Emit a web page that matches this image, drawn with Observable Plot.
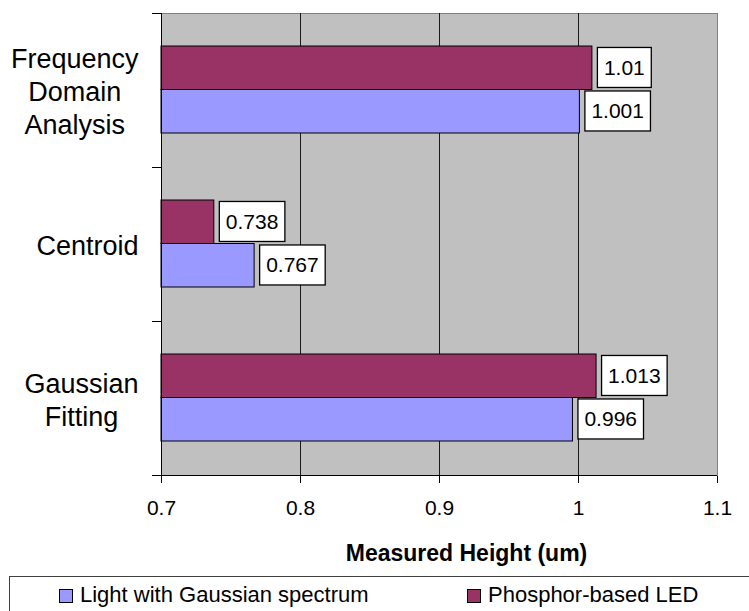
<!DOCTYPE html>
<html><head><meta charset="utf-8">
<script src="https://cdn.jsdelivr.net/npm/d3@7"></script>
<script src="https://cdn.jsdelivr.net/npm/@observablehq/plot@0.6"></script>
<style>
body{margin:0;background:#fff;font-family:"Liberation Sans",Arial,sans-serif;}
#chart{position:absolute;left:0;top:0;}
#legend{position:absolute;left:9px;top:576px;width:780px;height:60px;border:1px solid #404040;box-sizing:border-box;background:#fff;}
#legend .sw{position:absolute;top:12px;width:14px;height:14px;border:1px solid #000;box-sizing:border-box;}
#legend .lt{position:absolute;top:5px;font-size:22px;line-height:26px;color:#000;white-space:nowrap;}
</style></head><body>
<div id="chart"></div>
<div id="legend"></div>
<script>
const categories = ["Frequency Domain Analysis", "Centroid", "Gaussian Fitting"];
const categoryLabels = ["Frequency\nDomain\nAnalysis", "Centroid", "Gaussian\nFitting"];
const seriesNames = ["Light with Gaussian spectrum", "Phosphor-based LED"];
const seriesColors = ["#9999FF", "#993366"];
const lightValues = [1.001, 0.767, 0.996];
const phosphorValues = [1.01, 0.738, 1.013];
const xTicks = [0.7, 0.8, 0.9, 1.0, 1.1];
const xGrid = [0.8, 0.9, 1.0];
const xTitle = "Measured Height (um)";

const FONT = "'Liberation Sans', Arial, sans-serif";
const W = 749, H = 576, mt = 13, mb = 101, ml = 161, mr = 32;
const plotW = W - ml - mr;
const step = (H - mt - mb) / categories.length;
const barH = 43.5, topPad = 33;
const xMin = xTicks[0];
const CAT_FS = 27;

const lightRows = categories.map((c, i) => ({cat: c, value: lightValues[i]}));
const phRows = categories.map((c, i) => ({cat: c, value: phosphorValues[i]}));

// measure label blocks to center each multi-line label, right-aligned as a block
const ctx = document.createElement("canvas").getContext("2d");
ctx.font = CAT_FS + "px " + FONT;
const catMarks = categories.map((c, i) => {
  const lines = categoryLabels[i].split("\n");
  const w = Math.max(...lines.map(l => ctx.measureText(l).width));
  return Plot.text([c], {
    y: d => d, text: () => categoryLabels[i], frameAnchor: "left",
    textAnchor: "middle", lineAnchor: "middle", lineHeight: 1.23,
    dx: -23 - w / 2, fontSize: CAT_FS, fill: "#000"
  });
});

const phDy = topPad + barH / 2 - step / 2;
const liDy = topPad + barH + barH / 2 - step / 2;

const chart = Plot.plot({
  width: W, height: H,
  marginTop: mt, marginBottom: mb, marginLeft: ml, marginRight: mr,
  style: {fontFamily: FONT, fontSize: "21px", color: "#000", background: "transparent", overflow: "visible"},
  x: {domain: [xTicks[0], xTicks[xTicks.length - 1]], ticks: xTicks, tickFormat: d => String(d), tickSize: 8, tickPadding: 17, label: null},
  y: {domain: categories, padding: 0, round: false, axis: null},
  marks: [
    Plot.frame({fill: "#C0C0C0", stroke: "#808080"}),
    Plot.ruleX(xGrid, {stroke: "#1a1a1a"}),
    Plot.barX(phRows, {x1: () => xMin, x2: "value", y: "cat", fill: seriesColors[1], stroke: "#000", strokeWidth: 1,
      insetTop: topPad, insetBottom: step - topPad - barH}),
    Plot.barX(lightRows, {x1: () => xMin, x2: "value", y: "cat", fill: seriesColors[0], stroke: "#000", strokeWidth: 1,
      insetTop: topPad + barH, insetBottom: step - topPad - 2 * barH}),
    Plot.ruleX([xMin], {stroke: "#000"}),
    Plot.tickY(categories, {y: d => d, dy: -step / 2, insetLeft: -9, insetRight: plotW, stroke: "#000"}),
    Plot.tickY([categories[categories.length - 1]], {y: d => d, dy: step / 2, insetLeft: -9, stroke: "#000"}),
    Plot.text(phRows, {x: "value", y: "cat", text: d => String(d.value), dx: 11.5, dy: phDy, textAnchor: "start",
      lineAnchor: "middle", fontSize: 21, fill: "#000"}),
    Plot.text(lightRows, {x: "value", y: "cat", text: d => String(d.value), dx: 11.5, dy: liDy, textAnchor: "start",
      lineAnchor: "middle", fontSize: 21, fill: "#000"}),
    ...catMarks,
    Plot.text([xTitle], {frameAnchor: "bottom", text: d => d, dx: 27, dy: 78, lineAnchor: "middle",
      fontSize: 23, fontWeight: "bold", fill: "#000"})
  ]
});
document.getElementById("chart").appendChild(chart);

// white boxes behind data labels
const NS = "http://www.w3.org/2000/svg";
const valueStrings = new Set([...lightValues, ...phosphorValues].map(String));
chart.querySelectorAll("text").forEach(t => {
  if (!valueStrings.has(t.textContent)) return;
  const b = t.getBBox();
  const cy = b.y + b.height / 2;
  const r = document.createElementNS(NS, "rect");
  r.setAttribute("x", b.x - 6.5);
  r.setAttribute("y", cy - 20);
  r.setAttribute("width", b.width + 13);
  r.setAttribute("height", 40);
  r.setAttribute("fill", "#fff");
  r.setAttribute("stroke", "#000");
  r.setAttribute("stroke-width", 1.3);
  if (t.getAttribute("transform")) r.setAttribute("transform", t.getAttribute("transform"));
  t.parentNode.insertBefore(r, t);
});

// legend
const legend = document.getElementById("legend");
const swLeft = [49, 457], txLeft = [70, 478];
seriesNames.forEach((name, i) => {
  const sw = document.createElement("span");
  sw.className = "sw"; sw.style.left = swLeft[i] + "px"; sw.style.background = seriesColors[i];
  const tx = document.createElement("span");
  tx.className = "lt"; tx.style.left = txLeft[i] + "px"; tx.textContent = name;
  legend.appendChild(sw); legend.appendChild(tx);
});
</script>
</body></html>
